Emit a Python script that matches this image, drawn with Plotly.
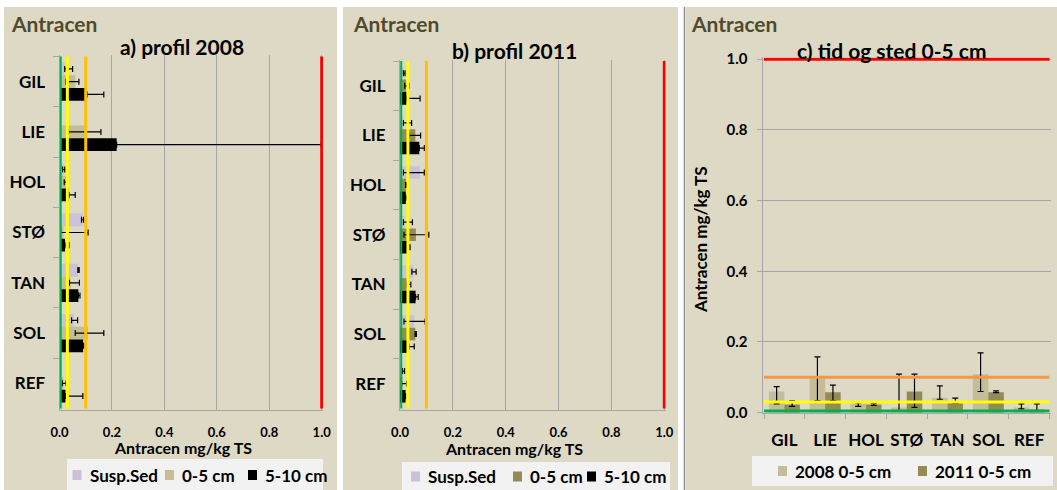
import plotly.graph_objects as go

# ---------------- data ----------------
sites = ["GIL", "LIE", "HOL", "STØ", "TAN", "SOL", "REF"]

# a) profile 2008 (mg/kg TS), error bars as +/- offsets
susp_2008 = [0.020, None, 0.015, 0.090, 0.070, 0.054, 0.003]
susp_2008_plus = [0.030, 0, 0.005, 0.002, 0.005, 0.015, 0]
susp_2008_minus = [0, 0, 0.003, 0.006, 0, 0.008, 0]
top_2008 = [0.060, 0.096, 0.025, 0.015, 0.042, 0.109, 0.015]
top_2008_plus = [0.014, 0.062, 0.003, 0.094, 0.034, 0.060, 0.010]
top_2008_minus = [0.035, 0.062, 0.007, 0.011, 0.004, 0.049, 0.004]
deep_2008 = [0.105, 0.218, 0.036, 0.021, 0.072, 0.090, 0.023]
deep_2008_plus = [0.064, 0.780, 0.024, 0.015, 0.006, 0.003, 0.066]
deep_2008_minus = [0, 0, 0, 0, 0, 0, 0]

# b) profile 2011
susp_2011 = [0.013, 0.013, 0.075, 0.019, 0.051, 0.054, 0.009]
susp_2011_plus = [0.006, 0.031, 0.017, 0.028, 0.010, 0.041, 0.008]
susp_2011_minus = [0, 0, 0.062, 0.006, 0.006, 0.039, 0]
top_2011 = [0.023, 0.058, 0.023, 0.060, 0.030, 0.058, 0.009]
top_2011_plus = [0.011, 0.020, 0.003, 0.049, 0.011, 0.004, 0.016]
top_2011_minus = [0.005, 0.024, 0.002, 0.045, 0.003, 0.001, 0.003]
deep_2011 = [0.025, 0.073, 0.022, 0.034, 0.059, 0.034, 0.021]
deep_2011_plus = [0.051, 0.019, 0.006, 0.004, 0.010, 0.020, 0]
deep_2011_minus = [0, 0, 0, 0, 0, 0, 0]

# classification limits for antracen
class_limits = [0.0046, 0.03, 0.1, 1.0]

x_ticks = [0.0, 0.2, 0.4, 0.6, 0.8, 1.0]

# ---------------- style ----------------
W, H = 1057, 490
FONT = "Lato"
C_SUSP = "#CCC1DA"
C_2008 = "#C4BD97"
C_2011 = "#948A54"
C_DEEP = "#000000"
C_BG = "#DDD9C4"
C_LEG = "#F2F2F2"
C_HEAD = "#4F4A2E"
C_GRID = "#A6A6A6"
lim_colors_ab = ["#00B050", "#FFFF00", "#FFC000", "#FF0000"]
lim_colors_c = ["#00B050", "#FFFF00", "#F79646", "#FF0000"]


def px(x):
    return x / W


def py(y):
    return 1 - y / H


fig = go.Figure()


def hbar(name, vals, plus, minus, color, xa, ya):
    fig.add_trace(go.Bar(
        y=sites, x=vals, orientation="h", name=name,
        marker=dict(color=color, line=dict(width=0)),
        error_x=dict(type="data", symmetric=False, array=plus, arrayminus=minus,
                     color="black", thickness=1.2, width=3),
        xaxis=xa, yaxis=ya, showlegend=False,
    ))


def vbar(name, vals, plus, minus, color, xa, ya):
    fig.add_trace(go.Bar(
        x=sites, y=vals, name=name,
        marker=dict(color=color, line=dict(width=0)),
        error_y=dict(type="data", symmetric=False, array=plus, arrayminus=minus,
                     color="black", thickness=1.2, width=3),
        xaxis=xa, yaxis=ya, showlegend=False,
    ))


hbar("Susp.Sed", susp_2008, susp_2008_plus, susp_2008_minus, C_SUSP, "x", "y")
hbar("0-5 cm", top_2008, top_2008_plus, top_2008_minus, C_2008, "x", "y")
hbar("5-10 cm", deep_2008, deep_2008_plus, deep_2008_minus, C_DEEP, "x", "y")

hbar("Susp.Sed", susp_2011, susp_2011_plus, susp_2011_minus, C_SUSP, "x2", "y2")
hbar("0-5 cm", top_2011, top_2011_plus, top_2011_minus, C_2011, "x2", "y2")
hbar("5-10 cm", deep_2011, deep_2011_plus, deep_2011_minus, C_DEEP, "x2", "y2")

vbar("2008 0-5 cm", top_2008, top_2008_plus, top_2008_minus, C_2008, "x3", "y3")
vbar("2011 0-5 cm", top_2011, top_2011_plus, top_2011_minus, C_2011, "x3", "y3")

shapes = []
# panel backgrounds
for x0, x1 in [(4, 337), (343, 678), (686, 1057)]:
    shapes.append(dict(type="rect", xref="paper", yref="paper", layer="below",
                       x0=px(x0), x1=px(x1), y0=py(490), y1=py(7),
                       fillcolor=C_BG, line=dict(width=0)))
shapes.append(dict(type="line", xref="paper", yref="paper", layer="below",
                   x0=px(684.5), x1=px(684.5), y0=py(490), y1=py(7),
                   line=dict(color="#8C8C8C", width=1.5)))

# classification lines
n = len(sites)
for v, col in zip(class_limits, lim_colors_ab):
    w = 2 if col == "#00B050" else 3
    for xa, ya in [("x", "y"), ("x2", "y2")]:
        shapes.append(dict(type="line", xref=xa, yref=ya, x0=v, x1=v, y0=-0.5, y1=n - 0.5,
                           line=dict(color=col, width=w)))
for v, col in zip(class_limits, lim_colors_c):
    shapes.append(dict(type="line", xref="x3", yref="y3", x0=-0.5, x1=n - 0.5, y0=v, y1=v,
                       line=dict(color=col, width=3)))

annotations = []


def text(x, y, s, size, color="black", anchor="center", angle=0):
    annotations.append(dict(xref="paper", yref="paper", x=px(x), y=py(y), text="<b>" + s + "</b>",
                            showarrow=False, xanchor=anchor, yanchor="middle", textangle=angle,
                            font=dict(family=FONT, size=size, color=color)))


# headers and titles
for x in (9, 351, 689):
    text(x, 23, "Antracen", 21, C_HEAD, "left")
text(182, 46, "a) profil 2008", 21)
text(514, 50.5, "b) profil 2011", 21)
text(892, 50.5, "c) tid og sted 0-5 cm", 21)
text(183, 447.5, "Antracen mg/kg TS", 16)
text(514, 448.5, "Antracen mg/kg TS", 16)
text(700, 240, "Antracen mg/kg TS", 17, angle=-90)


# legends
def legend(box, items, ytext):
    x0, x1, y0, y1 = box
    shapes.append(dict(type="rect", xref="paper", yref="paper", x0=px(x0), x1=px(x1),
                       y0=py(y1), y1=py(y0), fillcolor=C_LEG, line=dict(width=0), layer="below"))
    for sx, label, col in items:
        shapes.append(dict(type="rect", xref="paper", yref="paper", x0=px(sx), x1=px(sx + 9),
                           y0=py(ytext + 5), y1=py(ytext - 5), fillcolor=col, line=dict(width=0)))
        text(sx + 15, ytext, label, 17, anchor="left")


legend((67, 323, 459, 490), [(72.5, "Susp.Sed", C_SUSP), (165, "0-5 cm", C_2008),
                             (248, "5-10 cm", C_DEEP)], 475)
legend((402, 670, 462, 490), [(411, "Susp.Sed", C_SUSP), (513, "0-5 cm", C_2011),
                              (587, "5-10 cm", C_DEEP)], 476.5)
legend((752, 1053, 456, 486), [(778, "2008 0-5 cm", C_2008), (918, "2011 0-5 cm", C_2011)], 471)

tickfont_num = dict(family=FONT, size=13, color="black", weight="bold")
tickfont_cat = dict(family=FONT, size=17, color="black", weight="bold")

x_common = dict(range=[0, 1.005], tickvals=x_ticks, tickformat=".1f", showgrid=True,
                gridcolor=C_GRID, gridwidth=1, showline=True, linecolor=C_GRID, zeroline=False,
                ticks="", ticklabelstandoff=10, tickfont=tickfont_num, tickangle=0,
                automargin=False, fixedrange=True)
y_common = dict(type="category", categoryorder="array", categoryarray=sites, autorange="reversed",
                showgrid=False, showline=True, linecolor=C_GRID, ticks="outside", tickson="boundaries",
                ticklen=6, tickcolor=C_GRID, ticklabelstandoff=10, tickfont=tickfont_cat,
                zeroline=False, automargin=False, fixedrange=True)

fig.update_layout(
    width=W, height=H, margin=dict(l=0, r=0, t=0, b=0, autoexpand=False),
    paper_bgcolor="white", plot_bgcolor="white",
    barmode="group", bargap=0.24, bargroupgap=0,
    showlegend=False,
    font=dict(family=FONT, color="black"),
    xaxis=dict(domain=[px(59.5), px(323)], anchor="y", **x_common),
    yaxis=dict(domain=[py(410), py(55)], anchor="x", **y_common),
    xaxis2=dict(domain=[px(400), px(665.6)], anchor="y2", **x_common),
    yaxis2=dict(domain=[py(410), py(59.5)], anchor="x2", **y_common),
    xaxis3=dict(domain=[px(762.5), px(1051)], anchor="y3", type="category", categoryorder="array",
                categoryarray=sites, showgrid=False, showline=True, linecolor=C_GRID,
                ticks="outside", tickson="boundaries", ticklen=5, tickcolor=C_GRID, tickangle=0,
                ticklabelstandoff=12, tickfont=tickfont_cat, automargin=False, fixedrange=True),
    yaxis3=dict(domain=[py(412.7), py(57.4)], anchor="x3", range=[0, 1.005], tickvals=x_ticks,
                tickformat=".1f", showgrid=True, gridcolor=C_GRID, showline=True, linecolor=C_GRID,
                zeroline=False, ticks="outside", ticklen=5, tickcolor=C_GRID,
                ticklabelstandoff=6, tickfont=dict(family=FONT, size=15, color="black", weight="bold"),
                automargin=False, fixedrange=True),
    shapes=shapes,
    annotations=annotations,
)

fig.write_html("out.html")
